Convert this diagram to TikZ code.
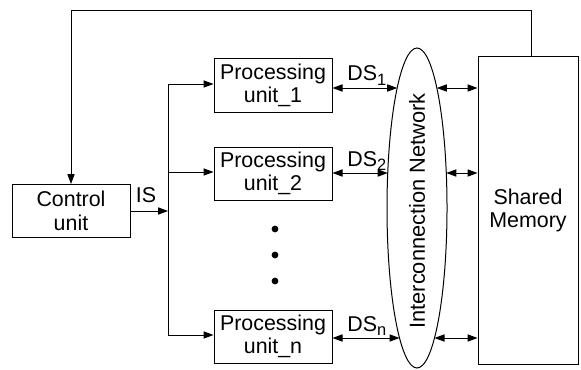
\documentclass[tikz,border=0pt]{standalone}
\usepackage{fontspec}
\setmainfont{Liberation Sans}
\usetikzlibrary{arrows.meta}
\newcommand{\lowsub}[1]{\raisebox{-2.2pt}{\fontsize{8.2}{8.2}\selectfont #1}}
\begin{document}
\begin{tikzpicture}[x=0.5pt,y=-0.5pt,
  every node/.style={font=\fontsize{10.7}{11.8}\selectfont, inner sep=0pt},
  ln/.style={line width=0.5pt},
  box/.style={ln, draw, minimum width=59pt, minimum height=26.5pt, align=center},
  tip/.tip={Triangle[length=5pt,width=3.6pt]},
  arr/.style={ln, -tip},
  darr/.style={ln, tip-tip},
  dot/.style={circle, fill, minimum size=3.4pt}]
  \useasboundingbox (0,0) rectangle (581,369);

  % blocks
  \node[box] (ctrl) at (71,211) {Control\\unit};
  \node[box] (p1) at (273,85.5) {Processing\\unit\_1};
  \node[box] (p2) at (273,173.5) {Processing\\unit\_2};
  \node[box] (pn) at (273,336.5) {Processing\\unit\_n};
  \node[box, minimum width=50pt, minimum height=153.5pt] (mem) at (528,210.5) {Shared\\Memory};

  % interconnection network
  \draw[ln] (417,208) ellipse [x radius=30, y radius=160];
  \node[rotate=90, font=\fontsize{10.9}{12}\selectfont] (net) at (417,211) {Interconnection Network};

  % dots between unit_2 and unit_n
  \node[dot] (d1) at (275,229) {};
  \node[dot] (d2) at (275,255) {};
  \node[dot] (d3) at (275,281) {};

  % instruction stream bus
  \coordinate (bt) at (168,84);
  \coordinate (b2) at (168,172);
  \coordinate (bb) at (168,335);
  \draw[ln] (bt) -- (bb);
  \draw[arr] (ctrl.east) -- (ctrl.east -| bt);
  \node (is) at (146,195) {IS};
  \draw[arr] (bt) -- (bt -| p1.west);
  \draw[arr] (b2) -- (b2 -| p2.west);
  \draw[arr] (bb) -- (bb -| pn.west);

  % feedback from memory to control unit
  \coordinate (fbR) at (531.5,11);
  \coordinate (fbL) at (71,11);
  \draw[arr] (fbR |- mem.north) -- (fbR) -- (fbL) -- (ctrl.north);

  % data streams through the network
  \coordinate (e1L) at (397.2,88);
  \coordinate (e1R) at (436.8,88);
  \coordinate (e2L) at (387.7,173);
  \coordinate (e2R) at (446.3,173);
  \coordinate (enL) at (399.5,338);
  \coordinate (enR) at (434.5,338);
  \draw[darr] (p1.east |- e1L) -- (e1L);
  \draw[darr] (p2.east |- e2L) -- (e2L);
  \draw[darr] (pn.east |- enL) -- (enL);
  \draw[darr] (e1R) -- (e1R -| mem.west);
  \draw[darr] (e2R) -- (e2R -| mem.west);
  \draw[darr] (enR) -- (enR -| mem.west);
  \node[anchor=base west] (ds1) at (347,81) {DS\lowsub{1}};
  \node[anchor=base west] (ds2) at (347,166) {DS\lowsub{2}};
  \node[anchor=base west] (dsn) at (347,331) {DS\lowsub{n}};
\end{tikzpicture}
\end{document}
